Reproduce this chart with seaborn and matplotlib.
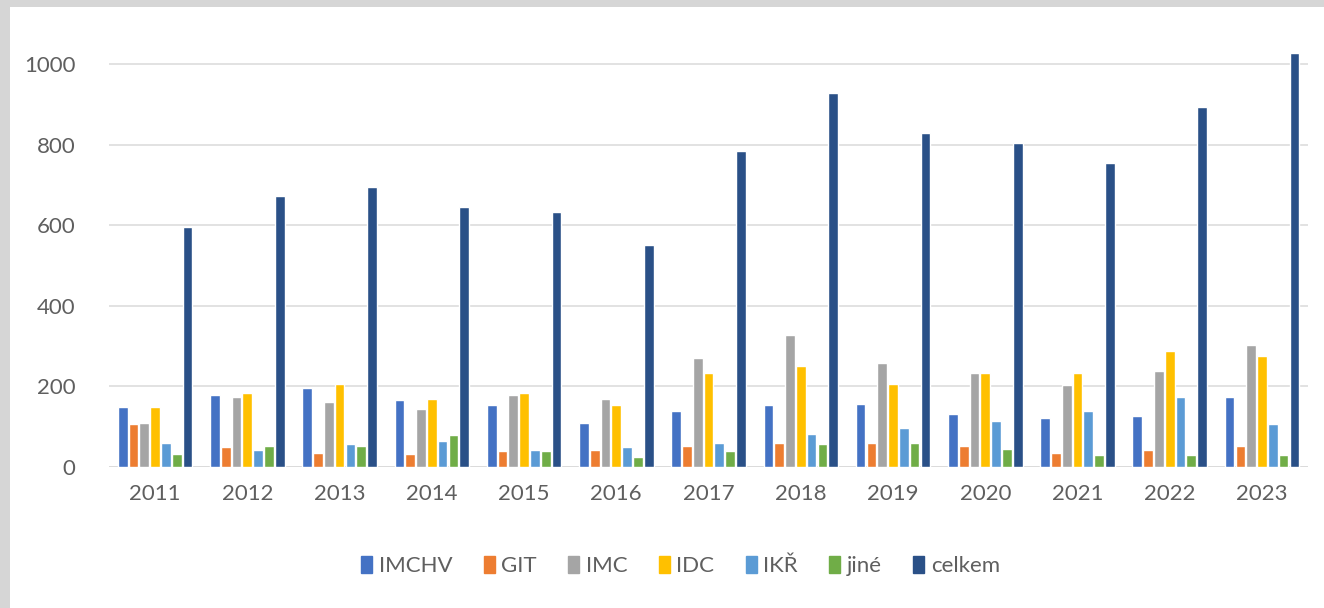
import pandas as pd
import matplotlib.pyplot as plt
import matplotlib.patches as mpatches
import seaborn as sns

years = [str(y) for y in range(2011, 2024)]
series = ["IMCHV", "GIT", "IMC", "IDC", "IKŘ", "jiné", "celkem"]

imchv = [150, 179, 196, 165, 153, 109, 140, 153, 156, 131, 122, 126, 174]
git = [106, 50, 35, 32, 40, 42, 53, 60, 60, 52, 34, 42, 52]
imc = [108, 174, 162, 144, 178, 169, 270, 327, 257, 234, 203, 239, 303]
idc = [150, 183, 206, 169, 183, 153, 234, 251, 206, 234, 232, 288, 275]
ikr = [60, 42, 57, 64, 42, 50, 60, 83, 96, 114, 140, 174, 106]
jine = [32, 53, 53, 79, 40, 26, 40, 56, 60, 44, 30, 30, 30]
celkem = [595, 672, 695, 645, 633, 551, 783, 928, 829, 804, 754, 893, 1027]

colors = ["#4472C4", "#ED7D31", "#A5A5A5", "#FFC000", "#5B9BD5", "#70AD47", "#2A5087"]

values = [imchv, git, imc, idc, ikr, jine, celkem]
rows = []
for name, vals in zip(series, values):
    for year, v in zip(years, vals):
        rows.append({"rok": year, "skupina": name, "pocet": v})
df = pd.DataFrame(rows)

sns.set_style("white")
plt.rcParams["font.family"] = ["Lato", "DejaVu Sans"]

fig = plt.figure(figsize=(13.24, 6.08), dpi=100)
fig.patches.append(mpatches.Rectangle((0, 0), 0.0076, 1, transform=fig.transFigure,
                                      facecolor="#d6d6d6", edgecolor="none", zorder=-1))
fig.patches.append(mpatches.Rectangle((0, 0.988), 1, 0.012, transform=fig.transFigure,
                                      facecolor="#d6d6d6", edgecolor="none", zorder=-1))

ax = fig.add_axes([0.0823, 0.2319, 0.9057, 0.6961])
sns.barplot(data=df, x="rok", y="pocet", hue="skupina", hue_order=series,
            palette=colors, width=0.82, gap=0.1, saturation=1, ax=ax)

ax.set_ylim(0, 1050)
ax.set_yticks(range(0, 1001, 200))
ax.grid(axis="y", color="#dddddd", linewidth=1.2)
ax.set_axisbelow(True)
for s in ax.spines.values():
    s.set_visible(False)
ax.axhline(0, color="#d0d0d0", linewidth=1.2, zorder=0)
ax.set_xlabel("")
ax.set_ylabel("")
ax.tick_params(axis="both", length=0, labelsize=16, labelcolor="#5f5f5f")
ax.tick_params(axis="x", pad=12)
ax.tick_params(axis="y", pad=24)

handles = [mpatches.Patch(color=c) for c in colors]
ax.legend(handles, series, loc="center", bbox_to_anchor=(0.514, 0.069),
          bbox_transform=fig.transFigure, ncol=7, frameon=False, fontsize=16,
          handlelength=0.5, handleheight=0.8, handletextpad=0.3,
          columnspacing=1.4, labelcolor="#5f5f5f")

fig.savefig("out.png", dpi=100, facecolor="white")
